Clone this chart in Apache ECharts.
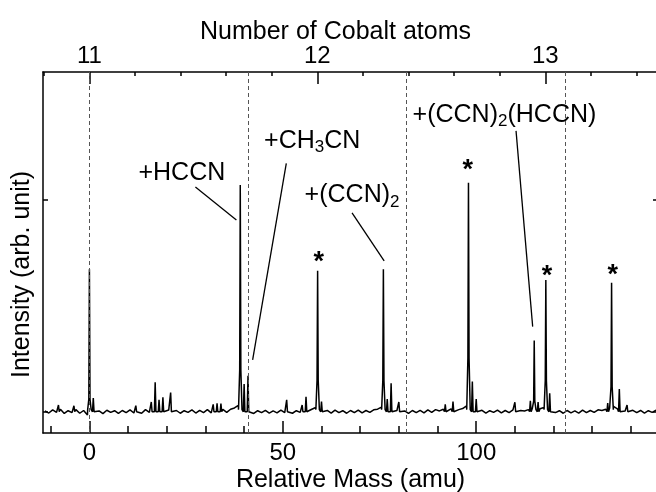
<!DOCTYPE html>
<html lang="en">
<head>
<meta charset="UTF-8">
<title>Co cluster mass spectrum</title>
<style>
    html, body { margin: 0; padding: 0; background: #fff; }
    #main { width: 656px; height: 492px; }
</style>
</head>
<body>
<div id="main"></div>
<script src="https://cdn.jsdelivr.net/npm/echarts@6/dist/echarts.min.js"></script>
<script>
// bottom axis: mass relative to Co11 (amu)
const massTicks = [-10, 0, 10, 20, 30, 40, 50, 60, 70, 80, 90, 100, 110, 120, 130, 140];
const massLabels = [0, 50, 100];
// top axis: number of cobalt atoms
const coMass = 58.93;
const cobaltLabels = [11, 12, 13];
const cobaltMinor = [10.8, 11.0, 11.2, 11.4, 11.6, 11.8, 12.0, 12.2, 12.4, 12.6, 12.8, 13.0, 13.2, 13.4];
// dashed guides every CH3CN (41 amu)
const dashedMass = [0, 41, 82, 123];

// peaks
const peakMass     = [-8, -4, 0, 1, 12, 16, 17, 18, 19, 21, 32, 33, 34, 39, 40, 41, 51, 55, 56, 59, 60,
                      76, 77, 78, 80, 92, 94, 98, 99, 100, 110, 114, 115, 116, 118, 119, 134, 135, 137, 139];
const peakHeight   = [0.032, 0.028, 0.671, 0.065, 0.029, 0.046, 0.139, 0.056, 0.068, 0.090, 0.035, 0.040, 0.038,
                      1.068, 0.131, 0.170, 0.056, 0.032, 0.071, 0.664, 0.048,
                      0.671, 0.060, 0.134, 0.046, 0.035, 0.048, 1.079, 0.142, 0.060, 0.045, 0.052, 0.335, 0.046,
                      0.621, 0.087, 0.041, 0.608, 0.107, 0.032];
const peakShoulder = [0, 0, 0.06, 0, 0, 0, 0, 0, 0, 0, 0, 0, 0,
                      0.197, 0, 0, 0, 0, 0, 0.150, 0,
                      0.146, 0, 0, 0, 0, 0, 0.253, 0, 0, 0, 0, 0.05, 0,
                      0.146, 0, 0, 0.118, 0, 0];

// baseline noise, one value per amu starting at -12 (drawn at m + 0.5)
const noiseStart = -12;
const noise = [
    0.004, -0.006, 0.009, -0.003, 0.012, -0.008, 0.005, -0.004, 0.010, -0.007,
    0.006, -0.015, 0.008, -0.005, 0.004, -0.009, 0.007, -0.003, 0.005, -0.008,
    0.006, -0.004, 0.009, -0.006, 0.004, -0.007, 0.010, -0.003, 0.006, -0.005,
    0.004, -0.006, 0.008, -0.004, 0.006, -0.007, 0.005, -0.003, 0.009, -0.006,
    0.007, -0.004, 0.010, -0.005, 0.008, -0.006, 0.011, -0.003, 0.012, 0.018,
    0.030, 0.010, -0.004, 0.006, -0.008, 0.005, -0.004, 0.007, -0.006, 0.004,
    -0.005, 0.008, -0.004, 0.006, -0.007, 0.005, -0.003, 0.009, -0.005, 0.012,
    0.020, 0.010, -0.004, 0.006, -0.006, 0.008, -0.004, 0.005, -0.007, 0.006,
    -0.004, 0.008, -0.005, 0.006, -0.003, 0.009, 0.012, 0.022, 0.012, 0.008,
    -0.003, 0.006, -0.006, 0.004, -0.008, 0.006, -0.004, 0.007, -0.005, 0.009,
    -0.003, 0.010, 0.004, 0.012, 0.006, 0.014, 0.008, 0.010, 0.015, 0.028,
    0.018, 0.006, -0.004, 0.007, -0.006, 0.005, -0.003, 0.008, -0.005, 0.006,
    -0.004, 0.009, -0.005, 0.006, 0.004, 0.010, 0.015, 0.012, 0.014, 0.020,
    0.012, 0.006, -0.004, 0.005, -0.007, 0.006, -0.005, 0.004, -0.006, 0.008,
    -0.004, 0.006, -0.003, 0.009, 0.006, 0.012, 0.018, 0.025, 0.014, 0.008,
    0.004, -0.005, 0.007, -0.004, 0.006, -0.006, 0.005, -0.003, 0.007, -0.005
];

// labels and leader lines (data units)
const annotText  = ['{n|+HCCN}', '{n|+CH}{s|3}{n|CN}', '{n|+(CCN)}{s|2}', '{n|+(CCN)}{s|2}{n|(HCCN)}'];
const annotMass  = [23.9, 57.6, 67.9, 107.3];
const annotLevel = [1.110, 1.262, 1.004, 1.385];
const leaderFrom = [[27.4, 1.058], [50.9, 1.170], [67.9, 0.937], [110.3, 1.323]];
const leaderTo   = [[38.0, 0.903], [42.2, 0.244], [76.2, 0.711], [114.6, 0.401]];
const starMass  = [59.3, 97.8, 118.3, 135.3];
const starLevel = [0.705, 1.138, 0.638, 0.642];

const FONT = 'Liberation Sans, Arial, sans-serif';
const xMin = -12, xMax = 147, yMin = -0.1, yMax = 1.6;

// merge noise + peaks into one trace
let trace = [];
noise.forEach(function (v, i) { trace.push([noiseStart + i + 0.5, v]); });
peakMass.forEach(function (m, i) {
    const h = peakHeight[i], s = peakShoulder[i];
    if (s > 0) {
        trace.push([m - 0.45, 0.01], [m - 0.15, s], [m, h], [m + 0.15, s], [m + 0.45, 0.01]);
    } else {
        trace.push([m - 0.2, 0], [m, h], [m + 0.2, 0]);
    }
});
trace.sort(function (a, b) { return a[0] - b[0]; });

const coToMass = function (n) { return (n - 11) * coMass; };

const myChart = echarts.init(document.getElementById('main'));
const axisLine = { show: true, onZero: false, lineStyle: { color: '#000', width: 1.5 } };
const tickStyle = { color: '#000', width: 1.5 };

myChart.setOption({
    animation: false,
    grid: { left: 43, right: -2, top: 72, bottom: 59, containLabel: false, outerBoundsMode: 'none' },
    xAxis: [
        {   // bottom, minor ticks + labels
            type: 'value', position: 'bottom', min: xMin, max: xMax,
            axisLine: axisLine,
            axisTick: { show: true, inside: true, length: 7, customValues: massTicks, lineStyle: tickStyle },
            axisLabel: { show: true, customValues: massLabels, margin: 8, fontSize: 24, color: '#000', fontFamily: FONT },
            splitLine: { show: false },
            name: 'Relative Mass (amu)', nameLocation: 'middle', nameGap: 35, nameMoveOverlap: false,
            nameTextStyle: { fontSize: 25, color: '#000', fontFamily: FONT }
        },
        {   // bottom, major ticks
            type: 'value', position: 'bottom', min: xMin, max: xMax,
            axisLine: { show: false, onZero: false },
            axisTick: { show: true, inside: true, length: 12, customValues: massLabels, lineStyle: tickStyle },
            axisLabel: { show: false }, splitLine: { show: false }
        },
        {   // top, minor ticks
            type: 'value', position: 'top', min: xMin, max: xMax,
            axisLine: axisLine,
            axisTick: { show: true, inside: true, length: 4, customValues: cobaltMinor.map(coToMass), lineStyle: tickStyle },
            axisLabel: { show: false }, splitLine: { show: false }
        },
        {   // top, cobalt number labels
            type: 'value', position: 'top', min: xMin, max: xMax,
            axisLine: { show: false, onZero: false },
            axisTick: { show: true, inside: true, length: 12, customValues: cobaltLabels.map(coToMass), lineStyle: tickStyle },
            axisLabel: {
                show: true, customValues: cobaltLabels.map(coToMass), margin: 4,
                fontSize: 24, color: '#000', fontFamily: FONT,
                formatter: function (v) { return String(Math.round(11 + v / coMass)); }
            },
            splitLine: { show: false },
            name: 'Number of Cobalt atoms', nameLocation: 'middle', nameGap: 27, nameMoveOverlap: false,
            nameTextStyle: { fontSize: 25, color: '#000', fontFamily: FONT, padding: [0, 30, 0, 0] }
        }
    ],
    yAxis: [
        {
            type: 'value', position: 'left', min: yMin, max: yMax,
            axisLine: axisLine,
            axisTick: { show: true, inside: true, length: 5, customValues: [0, 1], lineStyle: tickStyle },
            axisLabel: { show: false }, splitLine: { show: false },
            name: 'Intensity (arb. unit)', nameLocation: 'middle', nameGap: 8, nameMoveOverlap: false,
            nameTextStyle: { fontSize: 25, color: '#000', fontFamily: FONT, padding: [0, 44, 0, 0] }
        },
        {
            type: 'value', position: 'right', min: yMin, max: yMax,
            axisLine: axisLine,
            axisTick: { show: true, inside: true, length: 5, customValues: [0, 1], lineStyle: tickStyle },
            axisLabel: { show: false }, splitLine: { show: false }
        }
    ],
    series: [
        {
            type: 'line',
            data: trace,
            showSymbol: false,
            lineStyle: { color: '#000', width: 1.5 },
            markLine: {
                silent: true, symbol: 'none', label: { show: false },
                lineStyle: { color: '#555', type: [4, 3], width: 1 },
                data: dashedMass.map(function (m) { return { xAxis: m }; })
            }
        },
        {
            type: 'lines',
            coordinateSystem: 'cartesian2d',
            silent: true,
            lineStyle: { color: '#000', width: 1.3, opacity: 1 },
            data: leaderFrom.map(function (p, i) { return { coords: [p, leaderTo[i]] }; })
        },
        {
            type: 'scatter',
            symbolSize: 0,
            silent: true,
            itemStyle: { opacity: 1 },
            data: annotMass.map(function (m, i) { return [m, annotLevel[i]]; }),
            label: {
                show: true, position: 'inside', color: '#000',
                formatter: function (p) { return annotText[p.dataIndex]; },
                rich: {
                    n: { fontSize: 25, lineHeight: 25, padding: [0, 0, 3, 0], verticalAlign: 'bottom', color: '#000', fontFamily: FONT },
                    s: { fontSize: 17, lineHeight: 17, verticalAlign: 'bottom', color: '#000', fontFamily: FONT }
                }
            }
        },
        {
            type: 'scatter',
            symbolSize: 0,
            silent: true,
            itemStyle: { opacity: 1 },
            data: starMass.map(function (m, i) { return [m, starLevel[i]]; }),
            label: { show: true, position: 'inside', formatter: '*', fontSize: 27, fontWeight: 'bold', color: '#000', fontFamily: FONT }
        }
    ]
});
</script>
</body>
</html>
